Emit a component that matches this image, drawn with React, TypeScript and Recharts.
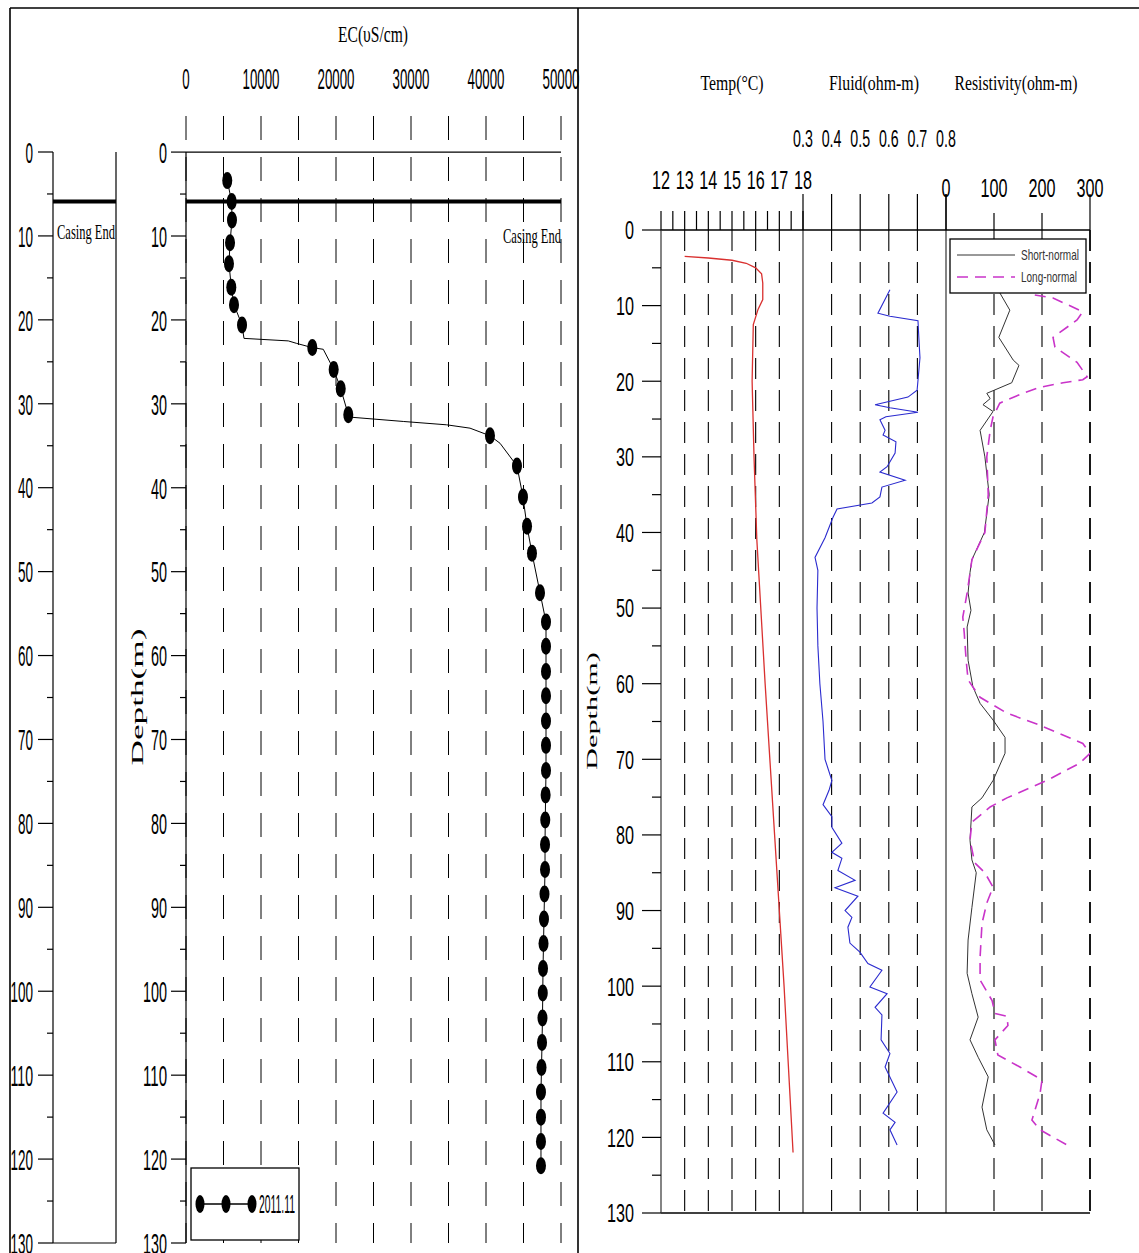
import React from 'react';
import { ScatterChart, Scatter, XAxis, YAxis, ReferenceLine, CartesianGrid } from 'recharts';

const W = 1139;
const H = 1253;
const SANS = "'Liberation Sans Narrow', 'Liberation Sans', Arial, sans-serif";
const SERIF = "'Liberation Serif', 'Times New Roman', serif";

// ---------------- data ----------------
const depthTicks = [0, 5, 10, 15, 20, 25, 30, 35, 40, 45, 50, 55, 60, 65, 70, 75, 80, 85, 90, 95, 100, 105, 110, 115, 120, 125, 130];
const casingDepth = 5.9;
const casingLabel = 'Casing End';

const ecTicks = [0, 5000, 10000, 15000, 20000, 25000, 30000, 35000, 40000, 45000, 50000];
const ecDepths = [3.4, 5.9, 8.1, 10.8, 13.3, 16.1, 18.2, 20.6, 22.2, 22.5, 22.8, 23.3, 23.5, 25.9, 28.2, 31.3, 31.6, 32.1, 32.5, 32.9, 33.8, 34.7, 37.4, 41.1, 44.6, 47.8, 52.5, 56.0, 58.9, 61.9, 64.8, 67.8, 70.7, 73.7, 76.6, 79.6, 82.5, 85.5, 88.4, 91.4, 94.3, 97.3, 100.2, 103.2, 106.1, 109.1, 112.0, 115.0, 117.9, 120.8];
const ecValues = [5500, 6090, 6130, 5870, 5730, 6040, 6400, 7470, 7730, 13640, 14760, 16840, 18300, 19690, 20630, 21640, 22090, 28970, 34760, 37870, 40530, 41870, 44130, 44930, 45470, 46130, 47200, 48000, 48000, 48000, 48000, 48000, 48000, 48000, 47950, 47900, 47870, 47870, 47800, 47730, 47670, 47600, 47570, 47530, 47470, 47400, 47330, 47330, 47330, 47330];
const ecMarked = [1, 1, 1, 1, 1, 1, 1, 1, 0, 0, 0, 1, 0, 1, 1, 1, 0, 0, 0, 0, 1, 0, 1, 1, 1, 1, 1, 1, 1, 1, 1, 1, 1, 1, 1, 1, 1, 1, 1, 1, 1, 1, 1, 1, 1, 1, 1, 1, 1, 1];
const ecSeriesName = '2011.11';

const tempTicks = [12, 12.5, 13, 13.5, 14, 14.5, 15, 15.5, 16, 16.5, 17, 17.5, 18];
const tempGrid = [13, 14, 15, 16, 17];
const tempDepths = [3.5, 3.7, 4.0, 4.4, 5.0, 5.8, 7.0, 9.2, 10.5, 12.5, 20, 30, 41, 60, 80, 100, 122];
const tempValues = [13.0, 14.0, 15.0, 15.6, 16.0, 16.25, 16.3, 16.3, 16.1, 15.9, 15.85, 15.93, 16.05, 16.4, 16.8, 17.2, 17.58];

const fluidTicks = [0.3, 0.4, 0.5, 0.6, 0.7, 0.8];
const fluidGrid = [0.4, 0.5, 0.6, 0.7];
const fluidDepths = [7.9, 11.0, 11.4, 12.0, 14.9, 16.9, 21.2, 22.1, 23.1, 23.5, 24.1, 24.7, 25.1, 26.5, 27.1, 28.0, 29.5, 31.3, 32.0, 33.1, 34.0, 35.3, 36.1, 36.9, 38.0, 40.7, 43.3, 45, 50, 55, 60, 65, 70, 72.8, 74.1, 76, 77.6, 79, 81.1, 82.3, 83.1, 84.7, 86, 87, 88.1, 90, 90.9, 92.2, 94.3, 95.5, 97, 97.9, 100.1, 101, 102.8, 103.8, 107.1, 108.9, 110.7, 114, 116.8, 118, 119, 121];
const fluidValues = [0.604, 0.562, 0.604, 0.702, 0.706, 0.709, 0.699, 0.667, 0.552, 0.604, 0.702, 0.590, 0.569, 0.587, 0.580, 0.625, 0.622, 0.594, 0.569, 0.657, 0.576, 0.569, 0.541, 0.419, 0.405, 0.377, 0.342, 0.352, 0.349, 0.352, 0.359, 0.370, 0.377, 0.401, 0.391, 0.370, 0.401, 0.401, 0.436, 0.401, 0.436, 0.422, 0.482, 0.412, 0.492, 0.447, 0.471, 0.457, 0.464, 0.499, 0.527, 0.576, 0.534, 0.594, 0.552, 0.576, 0.573, 0.604, 0.587, 0.629, 0.580, 0.622, 0.604, 0.629];

const resTicks = [0, 100, 200, 300];
const resGrid = [100, 200, 300];
const shortDepths = [8.3, 10.6, 14.2, 17.2, 17.9, 20.2, 21.6, 22.3, 23.1, 24.0, 26.5, 30, 35, 40, 43.6, 45.3, 48, 50.3, 52.5, 56.9, 60.4, 62.6, 64.8, 67.1, 69.2, 72.8, 75.1, 76.3, 80.7, 83.3, 85, 89.6, 93.9, 98.3, 101, 104.1, 107.1, 109.4, 112, 116, 119, 121];
const shortValues = [112, 133, 110, 140, 152, 137, 85, 92, 77, 98, 71, 81, 90, 80, 54, 50, 46, 52, 44, 46, 56, 71, 98, 123, 123, 98, 75, 54, 50, 54, 63, 54, 46, 44, 54, 67, 50, 67, 88, 75, 85, 102];
const longDepths = [8.6, 9.0, 10.8, 11.9, 14.2, 15.5, 17.5, 19.4, 19.8, 20.2, 20.8, 21.6, 22.9, 24.7, 26.5, 30, 35, 40, 43.6, 48, 51.2, 53.3, 56.9, 59.5, 61.8, 63.9, 65.5, 67.9, 69.2, 70.5, 72.8, 75.1, 76.3, 78.3, 80.7, 83.7, 85, 86.9, 89, 91.7, 96.2, 99.2, 101.9, 103.6, 104, 105.2, 107.1, 109.1, 110.7, 112.4, 114.2, 117.7, 119, 121];
const longValues = [185, 223, 285, 273, 223, 227, 273, 294, 285, 244, 196, 160, 112, 98, 92, 85, 88, 81, 54, 44, 35, 38, 42, 46, 71, 127, 196, 285, 300, 279, 210, 127, 92, 54, 50, 60, 81, 98, 85, 75, 71, 71, 96, 102, 127, 129, 102, 108, 154, 200, 196, 179, 196, 252];
const shortName = 'Short-normal';
const longName = 'Long-normal';

// ---------------- helpers ----------------
const rows = (d: number[], v: number[]) => d.map((depth, i) => ({ depth, v: v[i] }));
const ecRows = ecDepths.map((depth, i) => ({ depth, v: ecValues[i], mark: ecMarked[i] }));
const tempRows = rows(tempDepths, tempValues);
const fluidRows = rows(fluidDepths, fluidValues);
const shortRows = rows(shortDepths, shortValues);
const longRows = rows(longDepths, longValues);

const C_TEMP = '#d9302f';
const C_FLUID = '#2b2bcf';
const C_SHORT = '#333333';
const C_LONG = '#c934c9';

const Txt = (p: any) => {
  const { x, y, fs, w, anchor = 'middle', font = SANS, fill = '#000', transform, adjust = 'spacingAndGlyphs', children } = p;
  return (
    <text x={x} y={y} fontSize={fs} fontFamily={font} fill={fill} textAnchor={anchor}
      textLength={w} lengthAdjust={w ? adjust : undefined} transform={transform}>
      {children}
    </text>
  );
};

const depthTick = (major: number, minor: number, gap: number, fs: number, cw: number) => (p: any) => {
  const v = Number(p.payload.value);
  const isMajor = v % 10 === 0;
  const label = String(v);
  return (
    <g>
      <line x1={p.x - (isMajor ? major : minor)} x2={p.x} y1={p.y} y2={p.y} stroke="#000" strokeWidth={1.2} />
      {isMajor && (
        <Txt x={p.x - gap} y={p.y + fs * 0.36} fs={fs} w={cw * label.length} anchor="end">{label}</Txt>
      )}
    </g>
  );
};

const topTick = (
  len: (v: number) => number,
  label: (v: number) => string | null,
  up: number, fs: number, cw: number,
) => (p: any) => {
  const v = Number(p.payload.value);
  const l = len(v);
  const s = label(v);
  return (
    <g>
      {l > 0 && <line x1={p.x} x2={p.x} y1={p.y - l} y2={p.y} stroke="#000" strokeWidth={1.2} />}
      {s !== null && (
        <Txt x={p.x} y={p.y - up + fs * 0.36} fs={fs} w={cw * s.length - (s.includes('.') ? cw * 0.8 : 0)}>{s}</Txt>
      )}
    </g>
  );
};

const ecMarker = (p: any) =>
  p.payload && p.payload.mark ? <ellipse cx={p.cx} cy={p.cy} rx={5} ry={8.5} fill="#000" /> : <g />;
const noDot = () => <g />;

const casingLabelFn = (dx: number, dy: number, anchorEnd: boolean) => (p: any) => {
  const vb = p.viewBox || { x: 0, y: 0, width: 0 };
  const x = anchorEnd ? vb.x + vb.width : vb.x + dx;
  return (
    <Txt x={x} y={vb.y + dy} fs={22} w={58} anchor={anchorEnd ? 'end' : 'start'} font={SERIF}>{casingLabel}</Txt>
  );
};

const abs: React.CSSProperties = { position: 'absolute', left: 0, top: 0 };
const DASH = '21 11';

export default function App() {
  return (
    <div style={{ position: 'absolute', left: 0, top: 0, width: W, height: H, background: '#fff', overflow: 'hidden' }}>
      {/* Left mini casing axis */}
      <div style={abs}>
        <ScatterChart width={W} height={H} margin={{ top: 152, right: W - 116, bottom: H - 1243, left: 0 }}>
          <XAxis type="number" dataKey="v" domain={[0, 1]} hide allowDataOverflow />
          <YAxis type="number" dataKey="depth" domain={[0, 130]} reversed ticks={depthTicks} interval={0} width={53}
            tickLine={false} tickSize={0} tickMargin={0} axisLine={{ stroke: '#000', strokeWidth: 1.2 }}
            tick={depthTick(15, 6, 20, 30, 7.5)} allowDataOverflow />
          <ReferenceLine y={casingDepth} stroke="#000" strokeWidth={4} label={casingLabelFn(4, 37, false)} />
          <ReferenceLine y={130} stroke="#000" strokeWidth={1.2} />
          <ReferenceLine x={1} stroke="#000" strokeWidth={1.2} />
        </ScatterChart>
      </div>

      {/* EC chart */}
      <div style={abs}>
        <ScatterChart width={W} height={H} margin={{ top: 0, right: W - 561, bottom: H - 1243, left: 126 }}>
          <CartesianGrid vertical horizontal={false} stroke="#000" strokeDasharray="24 17" strokeWidth={1} />
          <XAxis type="number" dataKey="v" orientation="top" height={116} domain={[0, 50000]} ticks={ecTicks} interval={0}
            axisLine={false} tickLine={false} tickSize={0} tickMargin={0} allowDataOverflow
            tick={topTick(() => 0, (v) => (v % 10000 === 0 ? String(v) : null), 37, 29, 7.4)} />
          <YAxis type="number" dataKey="depth" domain={[-4.3, 130]} reversed ticks={depthTicks} interval={0} width={60}
            tickLine={false} tickSize={0} tickMargin={0} axisLine={false} allowDataOverflow
            tick={depthTick(15, 6, 19, 30, 8)} />
          <ReferenceLine segment={[{ x: 0, y: 0 }, { x: 0, y: 130 }]} stroke="#000" strokeWidth={1.2} />
          <ReferenceLine y={0} stroke="#000" strokeWidth={1.2} />
          <ReferenceLine y={casingDepth} stroke="#000" strokeWidth={4} label={casingLabelFn(0, 41, true)} />
          <Scatter name={ecSeriesName} data={ecRows} fill="#000" line={{ stroke: '#000', strokeWidth: 1 }}
            shape={ecMarker} isAnimationActive={false} />
        </ScatterChart>
      </div>

      {/* Temperature track */}
      <div style={abs}>
        <ScatterChart width={W} height={H} margin={{ top: 170, right: W - 803, bottom: H - 1213, left: 581 }}>
          <XAxis type="number" dataKey="v" orientation="top" height={60} domain={[12, 18]} ticks={tempTicks} interval={0}
            axisLine={{ stroke: '#000', strokeWidth: 1.3 }} tickLine={false} tickSize={0} tickMargin={0} allowDataOverflow
            tick={topTick(() => 19, (v) => (Number.isInteger(v) ? String(v) : null), 50, 26, 9)} />
          <YAxis type="number" dataKey="depth" domain={[0, 130]} reversed ticks={depthTicks} interval={0} width={80}
            tickLine={false} tickSize={0} tickMargin={0} axisLine={{ stroke: '#333', strokeWidth: 1.2 }} allowDataOverflow
            tick={depthTick(19, 9, 27, 26, 9)} />
          {tempGrid.map((g) => (
            <ReferenceLine key={g} x={g} stroke="#000" strokeDasharray={DASH} strokeWidth={1.1} />
          ))}
          <ReferenceLine x={18} stroke="#666" strokeWidth={1.6} />
          <ReferenceLine y={130} stroke="#000" strokeWidth={1.3} />
          <Scatter data={tempRows} fill={C_TEMP} line={{ stroke: C_TEMP, strokeWidth: 1.3 }} shape={noDot}
            isAnimationActive={false} />
        </ScatterChart>
      </div>

      {/* Fluid track */}
      <div style={abs}>
        <ScatterChart width={W} height={H} margin={{ top: 170, right: W - 946, bottom: H - 1213, left: 803 }}>
          <XAxis type="number" dataKey="v" orientation="top" height={60} domain={[0.3, 0.8]} ticks={fluidTicks} interval={0}
            axisLine={{ stroke: '#000', strokeWidth: 1.3 }} tickLine={false} tickSize={0} tickMargin={0} allowDataOverflow
            tick={topTick(() => 36, (v) => v.toFixed(1), 92, 24, 9)} />
          <YAxis type="number" dataKey="depth" domain={[0, 130]} reversed hide allowDataOverflow />
          {fluidGrid.map((g) => (
            <ReferenceLine key={g} x={g} stroke="#000" strokeDasharray={DASH} strokeWidth={1.1} />
          ))}
          <ReferenceLine x={0.8} stroke="#666" strokeWidth={1.6} />
          <ReferenceLine y={130} stroke="#000" strokeWidth={1.3} />
          <Scatter data={fluidRows} fill={C_FLUID} line={{ stroke: C_FLUID, strokeWidth: 1.1 }} shape={noDot}
            isAnimationActive={false} />
        </ScatterChart>
      </div>

      {/* Resistivity track */}
      <div style={abs}>
        <ScatterChart width={W} height={H} margin={{ top: 170, right: W - 1090, bottom: H - 1213, left: 946 }}>
          <XAxis type="number" dataKey="v" orientation="top" height={60} domain={[0, 300]} ticks={resTicks} interval={0}
            axisLine={{ stroke: '#000', strokeWidth: 1.3 }} tickLine={false} tickSize={0} tickMargin={0} allowDataOverflow
            tick={topTick((v) => (v === 0 || v === 300 ? 36 : 17), (v) => String(v), 42, 26, 9)} />
          <YAxis type="number" dataKey="depth" domain={[0, 130]} reversed hide allowDataOverflow />
          {resGrid.map((g) => (
            <ReferenceLine key={g} x={g} stroke="#000" strokeDasharray={DASH} strokeWidth={g === 300 ? 1.8 : 1.1} />
          ))}
          <ReferenceLine y={130} stroke="#000" strokeWidth={1.3} />
          <Scatter name={shortName} data={shortRows} fill={C_SHORT} line={{ stroke: C_SHORT, strokeWidth: 1 }}
            shape={noDot} isAnimationActive={false} />
          <Scatter name={longName} data={longRows} fill={C_LONG}
            line={{ stroke: C_LONG, strokeWidth: 1.6, strokeDasharray: '11 7' }} shape={noDot} isAnimationActive={false} />
        </ScatterChart>
      </div>

      {/* Overlay: frame, titles, legends */}
      <svg width={W} height={H} style={{ position: 'absolute', left: 0, top: 0 }}>
        <line x1={10} x2={W} y1={8} y2={8} stroke="#000" strokeWidth={1.6} />
        <line x1={10} x2={10} y1={8} y2={H} stroke="#000" strokeWidth={1.6} />
        <line x1={578} x2={578} y1={8} y2={H} stroke="#000" strokeWidth={1.6} />

        <Txt x={143} y={697} fs={16} w={137} font={SERIF} transform="rotate(-90 143 697)">Depth(m)</Txt>
        <Txt x={597} y={711} fs={15} w={118} font={SERIF} transform="rotate(-90 597 711)">Depth(m)</Txt>
        <Txt x={373} y={42} fs={24} w={70} font={SERIF}>EC(υS/cm)</Txt>

        <Txt x={732} y={90} fs={22} w={63} font={SERIF}>Temp(°C)</Txt>
        <Txt x={874} y={90} fs={22} w={90} font={SERIF}>Fluid(ohm-m)</Txt>
        <Txt x={1016} y={90} fs={22} w={123} font={SERIF}>Resistivity(ohm-m)</Txt>

        {/* EC legend */}
        <rect x={191} y={1168} width={108} height={72} fill="#fff" stroke="#000" strokeWidth={1.3} />
        <line x1={200} x2={252} y1={1204} y2={1204} stroke="#000" strokeWidth={1.5} />
        <ellipse cx={200} cy={1204} rx={4.5} ry={9} fill="#000" />
        <ellipse cx={226} cy={1204} rx={4.5} ry={9} fill="#000" />
        <ellipse cx={252} cy={1204} rx={4.5} ry={9} fill="#000" />
        <Txt x={259} y={1213} fs={26} w={36} anchor="start">{ecSeriesName}</Txt>

        {/* Resistivity legend */}
        <rect x={950} y={239} width={136} height={54} fill="#fff" stroke="#000" strokeWidth={1.3} />
        <line x1={957} x2={1015} y1={255} y2={255} stroke={C_SHORT} strokeWidth={1} />
        <Txt x={1021} y={260} fs={15} w={58} anchor="start" fill="#333">{shortName}</Txt>
        <line x1={957} x2={1015} y1={277} y2={277} stroke={C_LONG} strokeWidth={1.6} strokeDasharray="11 7" />
        <Txt x={1021} y={282} fs={15} w={56} anchor="start" fill="#333">{longName}</Txt>
      </svg>
    </div>
  );
}
